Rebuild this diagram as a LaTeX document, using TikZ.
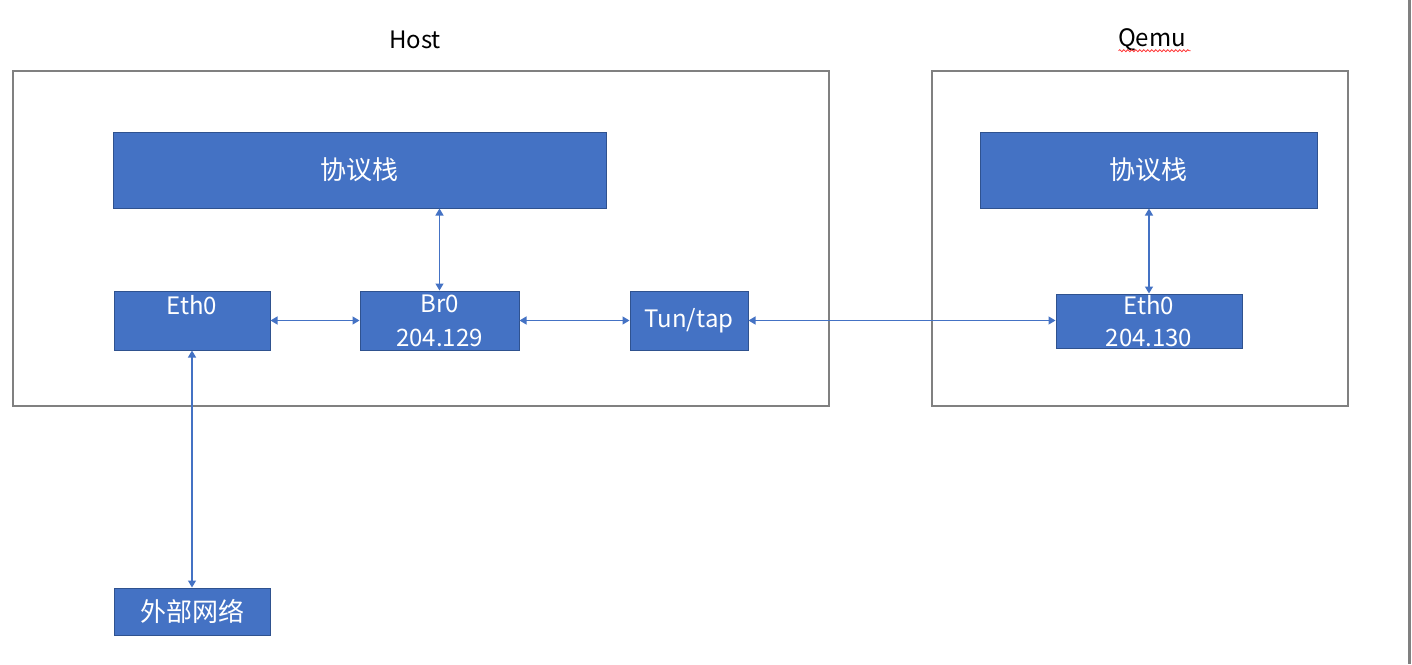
\documentclass[tikz,border=0pt]{standalone}
\usepackage{fontspec}
\setmainfont{Noto Sans CJK SC}
\usetikzlibrary{arrows.meta,decorations.pathmorphing}

\definecolor{boxblue}{HTML}{4472C4}
\definecolor{boxedge}{HTML}{2F528F}
\definecolor{frame}{HTML}{808080}

\begin{document}
\begin{tikzpicture}[x=1pt,y=-1pt,
    frame/.style={draw=frame,line width=1.2pt},
    blk/.style={draw=boxedge,fill=boxblue,line width=1pt,text=white,inner sep=0pt,font=\fontsize{24}{34}\selectfont,align=center},
    link/.style={draw=boxblue,line width=1.3pt,{Triangle[width=8pt,length=7pt]}-{Triangle[width=8pt,length=7pt]}}]
    % page size
    \useasboundingbox (0,0) rectangle (1412,664);
    \fill[white] (0,0) rectangle (1412,664);
    \draw[frame,line width=3pt] (1409.5,0) -- (1409.5,664);

    % host frame
    \node[font=\fontsize{24}{28}\selectfont] (hostlbl) at (415,40) {Host};
    \draw[frame] (13,71) rectangle (829,406);

    % qemu frame
    \node[font=\fontsize{24}{28}\selectfont] (qemulbl) at (1152,40) {Qemu};
    \draw[red!80,line width=0.8pt,decorate,decoration={snake,amplitude=1pt,segment length=4pt}]
        (qemulbl.south west) ++(4,-4) -- ++(72,0);
    \draw[frame] (932,71) rectangle (1348,406);

    % host blocks
    \node[blk,minimum width=493pt,minimum height=76pt,font=\fontsize{26}{30}\selectfont] (hstack) at (359.5,170) {协议栈};
    \node[blk,minimum width=156pt,minimum height=59pt] (heth) at (192,320.5) {};
    \node[font=\fontsize{24}{28}\selectfont,text=white] (hethtxt) at (192,305) {Eth0};
    \node[blk,minimum width=159pt,minimum height=59pt] (br) at (439.5,320.5) {Br0\\204.129};
    \node[blk,minimum width=118pt,minimum height=59pt] (tap) at (689,320.5) {Tun/tap};
    \node[blk,minimum width=156pt,minimum height=47pt,font=\fontsize{26}{30}\selectfont] (ext) at (192,611.5) {外部网络};

    % qemu blocks
    \node[blk,minimum width=337pt,minimum height=76pt,font=\fontsize{26}{30}\selectfont] (qstack) at (1148.5,170) {协议栈};
    \node[blk,minimum width=186pt,minimum height=54pt,font=\fontsize{24}{32}\selectfont] (qeth) at (1149,321) {Eth0\\204.130};

    % links
    \draw[link] (hstack.south -| br) -- (br.north);
    \draw[link] (heth.east |- br) -- (br.west);
    \draw[link] (br.east) -- (tap.west);
    \draw[link] (tap.east) -- (qeth.west |- tap);
    \draw[link] (qstack.south -| qeth) -- (qeth.north);
    \draw[link] (heth.south) -- (ext.north);
\end{tikzpicture}
\end{document}
